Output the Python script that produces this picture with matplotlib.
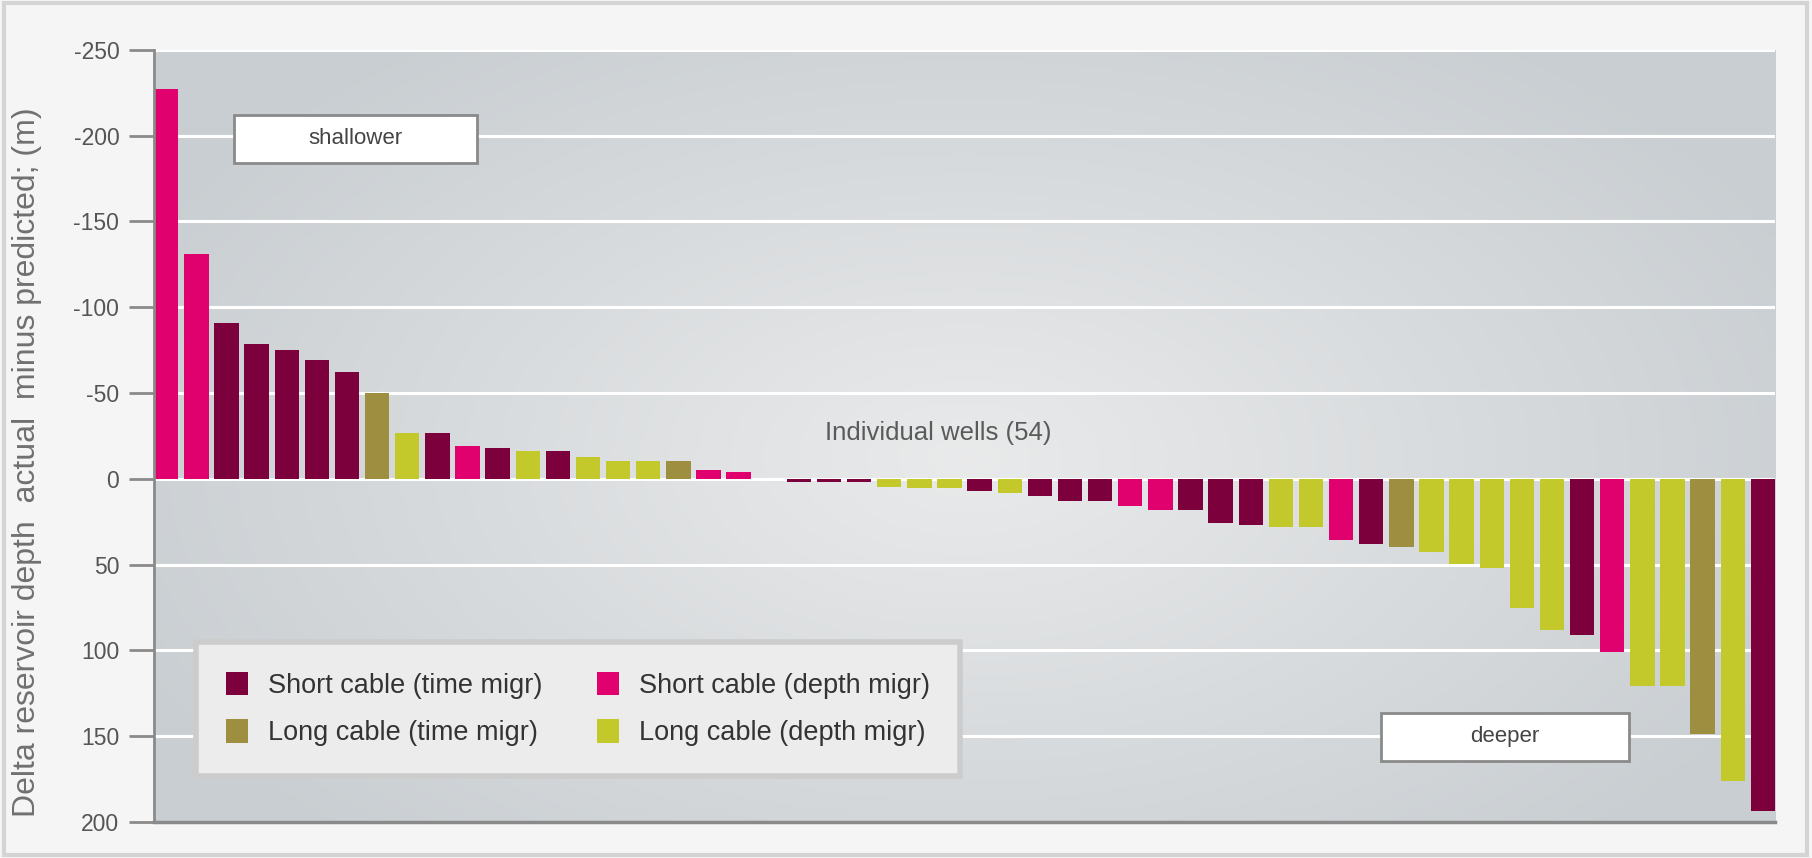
import numpy as np
import matplotlib.pyplot as plt
from matplotlib.patches import Patch, Rectangle

plt.rcParams['font.family'] = ['Liberation Sans', 'DejaVu Sans']
plt.rcParams['axes.unicode_minus'] = False

# Data: depth difference per well (negative = shallower), sorted
values = [-227, -131, -91, -78.5, -75, -69, -62, -50, -27, -27,
          -19, -18, -16, -16, -13, -10.5, -10.5, -10.5, -5, -4,
          0, 2, 2, 2, 4.5, 5.5, 5.5, 7, 8.5, 10,
          13, 13, 16, 18, 18, 25.5, 27, 28, 28, 35.5,
          38, 39.5, 42.5, 49.5, 52, 75, 88, 91, 101, 120.5,
          121, 148.5, 176, 193.5]
groups = ['SD', 'SD', 'ST', 'ST', 'ST', 'ST', 'ST', 'LT', 'LD', 'ST',
          'SD', 'ST', 'LD', 'ST', 'LD', 'LD', 'LD', 'LT', 'SD', 'SD',
          'ST', 'ST', 'ST', 'ST', 'LD', 'LD', 'LD', 'ST', 'LD', 'ST',
          'ST', 'ST', 'SD', 'SD', 'ST', 'ST', 'ST', 'LD', 'LD', 'SD',
          'ST', 'LT', 'LD', 'LD', 'LD', 'LD', 'LD', 'ST', 'SD', 'LD',
          'LD', 'LT', 'LD', 'ST']
group_names = {'ST': 'Short cable (time migr)', 'LT': 'Long cable (time migr)',
               'SD': 'Short cable (depth migr)', 'LD': 'Long cable (depth migr)'}
group_colors = {'ST': '#7b003c', 'LT': '#9e8e40', 'SD': '#e0006e', 'LD': '#c4c92b'}
yticks = [-250, -200, -150, -100, -50, 0, 50, 100, 150, 200]

fig = plt.figure(figsize=(18.12, 8.58), dpi=100, facecolor='#f5f5f5')
fig.patches.append(Rectangle((0.002, 0.003), 0.995, 0.993, transform=fig.transFigure,
                             fill=False, edgecolor='#d4d4d4', linewidth=3))

pos = [0.085, 0.042, 0.8946, 0.8998]

# soft radial background
bg = fig.add_axes(pos, zorder=0)
yy, xx = np.mgrid[0:1:200j, 0:1:400j]
r = np.sqrt(((xx - 0.5) / 0.75) ** 2 + ((yy - 0.47) / 0.9) ** 2)
r = np.clip(r / 0.75, 0, 1)
c0 = np.array([0.915, 0.918, 0.92])
c1 = np.array([0.79, 0.81, 0.825])
img = c0[None, None, :] * (1 - r[..., None]) + c1[None, None, :] * r[..., None]
bg.imshow(img, aspect='auto', extent=(0, 1, 0, 1), origin='lower')
bg.axis('off')

ax = fig.add_axes(pos, zorder=1)
ax.set_facecolor('none')

x = np.arange(len(values))
colors = [group_colors[g] for g in groups]
ax.bar(x, values, width=0.81, align='edge', color=colors, zorder=2)

ax.set_xlim(0, len(values) - 1 + 0.81)
ax.set_ylim(200, -250)
ax.set_yticks(yticks)
ax.set_yticklabels([str(t) for t in yticks])
ax.set_xticks([])
ax.yaxis.grid(True, color='white', linewidth=2.2)
ax.set_axisbelow(True)

for s in ['top', 'right']:
    ax.spines[s].set_visible(False)
ax.spines['left'].set_color('#8a8a8a')
ax.spines['left'].set_linewidth(2)
ax.spines['bottom'].set_color('#8a8a8a')
ax.spines['bottom'].set_linewidth(2.5)
ax.tick_params(axis='y', length=18, width=2, color='#8a8a8a', pad=7,
               labelsize=16.5, labelcolor='#555555')

ax.set_ylabel('Delta reservoir depth  actual  minus predicted; (m)',
              fontsize=23, color='#707070')
ax.yaxis.set_label_coords(-0.069, 0.466)

ax.text(0.4837, 0.504, 'Individual wells (54)', transform=ax.transAxes,
        ha='center', va='center', fontsize=18.5, color='#5a5a5a', zorder=3)

for (x0, y0, x1, y1), label in [((0.0494, 0.8536, 0.1993, 0.9158), 'shallower'),
                                ((0.757, 0.079, 0.910, 0.1412), 'deeper')]:
    ax.add_patch(Rectangle((x0, y0), x1 - x0, y1 - y0, transform=ax.transAxes,
                           facecolor='white', edgecolor='#8a8a8a', linewidth=2, zorder=4))
    ax.text((x0 + x1) / 2, (y0 + y1) / 2, label, transform=ax.transAxes,
            ha='center', va='center', fontsize=16, color='#444444', zorder=5)

handles = [Patch(facecolor=group_colors[k], label=group_names[k]) for k in ['ST', 'LT', 'SD', 'LD']]
leg = ax.legend(handles=handles, ncol=2, loc='lower left',
                bbox_to_anchor=(0.0259, 0.0596), fontsize=19.5, frameon=True,
                fancybox=False, handlelength=0.82, handleheight=0.95,
                handletextpad=0.75, columnspacing=2.0, labelspacing=0.75,
                borderpad=1.1, borderaxespad=0)
leg.get_frame().set_facecolor('#ececec')
leg.get_frame().set_edgecolor('#cccccc')
leg.get_frame().set_linewidth(4)
leg.get_frame().set_alpha(1)
leg.set_zorder(6)
for t in leg.get_texts():
    t.set_color('#333333')

fig.savefig('out.png', dpi=100, facecolor=fig.get_facecolor())
